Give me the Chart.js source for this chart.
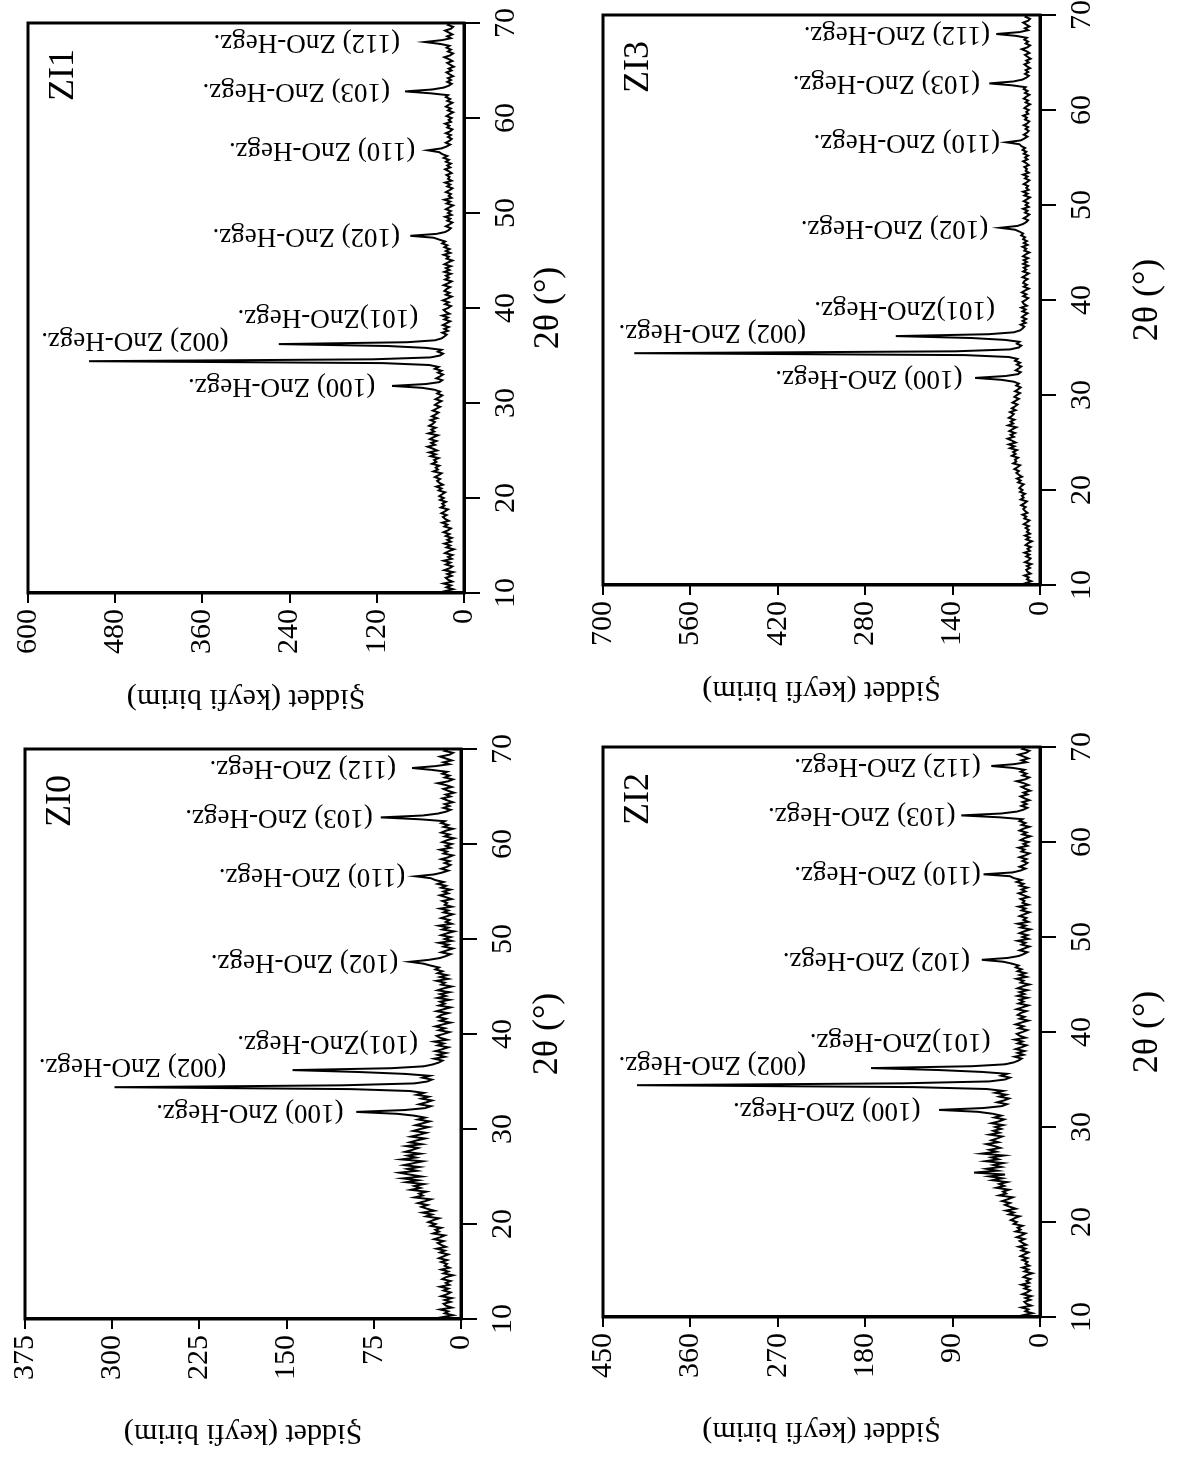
<!DOCTYPE html>
<html>
<head>
<meta charset="utf-8">
<script src="https://cdn.jsdelivr.net/npm/chart.js@4.4.1/dist/chart.umd.min.js"></script>
<style>
  html, body { margin: 0; background: #fff; }
  body { width: 1181px; height: 1468px; position: relative; overflow: hidden; }
  .panel { position: absolute; width: 734px; height: 590px; transform-origin: 0 0; transform: rotate(-90deg); }
</style>
</head>
<body>
<div class="panel" id="wrapZI1"><canvas id="chartZI1" width="734" height="590"></canvas></div>
<div class="panel" id="wrapZI3"><canvas id="chartZI3" width="734" height="590"></canvas></div>
<div class="panel" id="wrapZI0"><canvas id="chartZI0" width="734" height="590"></canvas></div>
<div class="panel" id="wrapZI2"><canvas id="chartZI2" width="734" height="590"></canvas></div>
<script>
// 2θ grid of the scans: 10° .. 70° every 0.2°
const thetaStart = 10;
const thetaStep = 0.2;

const xTicks = [10, 20, 30, 40, 50, 60, 70];
const yMaxZI0 = 375, yMaxZI1 = 600, yMaxZI2 = 450, yMaxZI3 = 700;

const peakNames = ["(100) ZnO-Hegz.", "(002) ZnO-Hegz.", "(101)ZnO-Hegz.", "(102) ZnO-Hegz.",
                   "(110) ZnO-Hegz.", "(103) ZnO-Hegz.", "(112) ZnO-Hegz."];

// intensities (one value per 0.2°)
const intensZI1 = [
  19, 26, 15, 24, 18, 28, 16, 22, 25, 17,
  23, 15, 27, 20, 16, 25, 19, 28, 17, 22,
  16, 26, 21, 14, 24, 19, 27, 18, 23, 17,
  25, 20, 28, 22, 18, 27, 23, 30, 21, 26,
  29, 24, 31, 26, 22, 32, 27, 30, 25, 33,
  28, 34, 30, 26, 35, 31, 38, 29, 34, 37,
  33, 40, 35, 31, 42, 36, 39, 34, 44, 38,
  41, 35, 46, 39, 48, 37, 43, 50, 40, 45,
  38, 47, 42, 36, 49, 41, 45, 39, 48, 43,
  40, 46, 37, 44, 39, 35, 43, 38, 33, 40,
  36, 31, 39, 34, 30, 37, 33, 41, 58, 99,
  52, 34, 30, 38, 33, 29, 36, 31, 40, 35,
  48, 112, 516, 125, 46, 33, 29, 36, 31, 52,
  105, 255, 78, 40, 31, 27, 24, 30, 22, 27,
  21, 29, 24, 19, 27, 22, 30, 20, 25, 28,
  22, 18, 26, 21, 29, 23, 17, 25, 20, 27,
  24, 19, 28, 22, 17, 26, 21, 25, 18, 27,
  20, 25, 18, 27, 22, 16, 24, 21, 28, 19,
  25, 20, 27, 23, 30, 26, 34, 42, 74, 38,
  26, 21, 18, 25, 20, 16, 23, 19, 26, 17,
  22, 18, 25, 20, 15, 24, 19, 27, 17, 21,
  18, 25, 20, 16, 23, 19, 26, 17, 22, 20,
  24, 17, 21, 26, 19, 23, 18, 25, 21, 28,
  23, 30, 34, 50, 31, 24, 19, 25, 20, 17,
  22, 18, 25, 19, 16, 23, 20, 26, 18, 21,
  17, 24, 20, 15, 22, 18, 25, 21, 16, 23,
  19, 25, 22, 46, 81, 44, 28, 21, 17, 23,
  18, 22, 15, 20, 24, 17, 21, 14, 19, 23,
  16, 21, 27, 19, 15, 22, 18, 24, 20, 33,
  54, 30, 18, 23, 16, 21, 26, 18, 15, 22,
  19
];

const intensZI3 = [
  17, 23, 14, 21, 18, 25, 15, 20, 22, 16,
  21, 14, 24, 18, 15, 22, 17, 25, 16, 20,
  15, 23, 19, 13, 22, 17, 24, 16, 21, 18,
  23, 18, 26, 21, 17, 25, 22, 28, 20, 24,
  27, 23, 30, 25, 21, 31, 26, 29, 24, 32,
  28, 33, 30, 26, 35, 31, 37, 29, 34, 38,
  34, 41, 36, 32, 43, 38, 40, 35, 45, 39,
  43, 37, 48, 41, 50, 39, 45, 52, 42, 47,
  40, 49, 44, 38, 51, 43, 47, 41, 50, 45,
  42, 48, 39, 45, 40, 36, 44, 39, 34, 41,
  37, 32, 40, 35, 31, 38, 34, 42, 62, 104,
  55, 35, 31, 39, 34, 30, 37, 32, 40, 36,
  50, 120, 650, 135, 48, 34, 30, 37, 33, 56,
  110, 231, 82, 42, 32, 28, 25, 31, 23, 28,
  22, 29, 25, 20, 28, 23, 30, 21, 26, 28,
  23, 19, 27, 22, 29, 24, 18, 26, 21, 27,
  25, 20, 28, 23, 18, 27, 22, 26, 19, 27,
  21, 26, 19, 27, 23, 17, 25, 22, 28, 20,
  26, 21, 27, 24, 30, 27, 33, 40, 64, 36,
  27, 22, 19, 26, 21, 17, 24, 20, 27, 18,
  23, 19, 26, 21, 16, 25, 20, 27, 18, 22,
  19, 26, 21, 17, 24, 20, 27, 18, 23, 21,
  25, 18, 22, 27, 20, 24, 19, 26, 22, 28,
  24, 30, 33, 54, 31, 25, 20, 26, 21, 18,
  23, 19, 26, 20, 17, 24, 21, 27, 19, 22,
  18, 25, 21, 16, 23, 19, 26, 22, 17, 24,
  20, 26, 23, 45, 81, 43, 28, 22, 18, 24,
  19, 23, 16, 21, 25, 18, 22, 15, 20, 24,
  17, 22, 29, 20, 16, 23, 19, 25, 21, 38,
  70, 33, 19, 24, 17, 22, 27, 19, 16, 23,
  20
];

const intensZI0 = [
  10, 16, 7, 14, 11, 18, 8, 13, 15, 9,
  14, 8, 17, 12, 9, 15, 11, 18, 10, 13,
  9, 16, 13, 7, 15, 11, 17, 10, 14, 12,
  17, 12, 19, 15, 11, 18, 14, 21, 13, 17,
  20, 15, 23, 18, 14, 24, 19, 22, 17, 26,
  22, 28, 24, 19, 30, 25, 33, 23, 29, 34,
  29, 37, 31, 26, 40, 33, 36, 30, 43, 35,
  40, 32, 47, 37, 50, 34, 44, 53, 38, 46,
  36, 49, 41, 33, 51, 39, 46, 35, 48, 42,
  37, 47, 34, 44, 38, 31, 43, 36, 30, 41,
  35, 28, 39, 33, 27, 37, 31, 40, 55, 90,
  48, 31, 26, 36, 30, 25, 34, 28, 38, 32,
  44, 95, 298, 102, 40, 29, 25, 33, 27, 48,
  88, 145, 60, 32, 24, 19, 16, 23, 14, 20,
  13, 22, 16, 11, 20, 15, 23, 12, 18, 21,
  15, 10, 19, 14, 22, 16, 9, 18, 13, 20,
  17, 11, 21, 15, 9, 19, 14, 18, 10, 20,
  13, 18, 10, 20, 15, 8, 17, 14, 21, 11,
  18, 12, 20, 16, 22, 19, 26, 32, 44, 28,
  18, 13, 9, 17, 12, 7, 15, 11, 19, 8,
  14, 9, 17, 12, 6, 16, 11, 19, 8, 13,
  10, 17, 12, 7, 15, 11, 18, 8, 14, 12,
  16, 8, 13, 18, 11, 15, 9, 17, 13, 20,
  15, 22, 26, 39, 23, 16, 11, 17, 12, 9,
  14, 10, 17, 11, 7, 15, 12, 18, 9, 13,
  8, 16, 12, 6, 14, 10, 17, 13, 7, 15,
  11, 17, 14, 35, 69, 33, 20, 13, 9, 15,
  10, 14, 7, 12, 16, 9, 13, 6, 11, 15,
  8, 13, 20, 11, 7, 14, 10, 16, 12, 25,
  42, 22, 10, 15, 8, 13, 18, 10, 7, 14,
  11
];

const intensZI2 = [
  11, 17, 8, 15, 12, 19, 9, 14, 16, 10,
  15, 9, 18, 13, 10, 16, 12, 19, 11, 14,
  10, 17, 14, 8, 16, 12, 18, 11, 15, 13,
  18, 13, 20, 16, 12, 19, 15, 22, 14, 18,
  21, 16, 24, 19, 15, 25, 20, 23, 18, 27,
  24, 30, 26, 21, 32, 27, 35, 25, 31, 36,
  31, 39, 33, 28, 42, 35, 38, 32, 45, 37,
  42, 34, 49, 39, 52, 36, 68, 44, 55, 40,
  48, 38, 56, 43, 50, 37, 60, 45, 52, 41,
  47, 55, 43, 50, 44, 39, 52, 42, 48, 40,
  46, 38, 50, 42, 37, 47, 40, 49, 64, 104,
  58, 39, 34, 44, 37, 32, 42, 35, 46, 38,
  55, 130, 415, 140, 52, 36, 31, 40, 34, 60,
  105, 174, 70, 36, 27, 22, 19, 26, 17, 23,
  16, 25, 19, 14, 23, 18, 26, 15, 21, 24,
  18, 13, 22, 17, 25, 19, 12, 21, 16, 23,
  20, 14, 24, 18, 12, 22, 17, 21, 13, 23,
  16, 21, 13, 23, 18, 11, 20, 17, 24, 14,
  21, 15, 23, 19, 25, 22, 29, 38, 60, 33,
  22, 17, 13, 21, 16, 11, 19, 15, 23, 12,
  18, 13, 21, 16, 10, 20, 15, 23, 12, 17,
  14, 21, 16, 11, 19, 15, 22, 12, 18, 16,
  20, 12, 17, 22, 15, 19, 13, 21, 17, 24,
  19, 27, 31, 58, 28, 20, 15, 21, 16, 13,
  18, 14, 21, 15, 11, 19, 16, 22, 13, 17,
  12, 20, 16, 10, 18, 14, 21, 17, 11, 19,
  15, 21, 18, 42, 81, 40, 24, 17, 13, 19,
  14, 18, 11, 16, 20, 13, 17, 10, 15, 19,
  12, 17, 24, 15, 11, 18, 14, 20, 16, 28,
  50, 26, 14, 19, 12, 17, 22, 14, 11, 18,
  15
];

// where each peak name sits (2θ, intensity at the start of the text)
const labelTheta = [31.8, 36.6, 39.0, 47.6, 56.6, 62.8, 68.0];
const labelAtZI1 = [122, 324, 63, 88, 67, 102, 88];
const labelAtZI3 = [124, 375, 72, 83, 64, 96, 80];
const labelAtZI0 = [101, 202, 37, 54, 48, 76, 56];
const labelAtZI2 = [123, 241, 51, 72, 61, 87, 61];

// page layout: plot box in page pixels, before the -90° turn
const layout = [
  { id: "ZI1", values: intensZI1, yMax: yMaxZI1, labelAt: labelAtZI1, box: { x1: 26, x2: 464, y1: 19, y2: 593 }, xTitlePad: 24, yTitlePad: 18 },
  { id: "ZI3", values: intensZI3, yMax: yMaxZI3, labelAt: labelAtZI3, box: { x1: 601, x2: 1040, y1: 14, y2: 585 }, xTitlePad: 0, yTitlePad: 18 },
  { id: "ZI0", values: intensZI0, yMax: yMaxZI0, labelAt: labelAtZI0, box: { x1: 23, x2: 461, y1: 748, y2: 1319 }, xTitlePad: 22, yTitlePad: 9 },
  { id: "ZI2", values: intensZI2, yMax: yMaxZI2, labelAt: labelAtZI2, box: { x1: 601, x2: 1040, y1: 746, y2: 1317 }, xTitlePad: 0, yTitlePad: 9 }
];

const W = 734, H = 590, PAD_TOP = 22, Y_AXIS_W = 141;
const serif = "Liberation Serif";

const decor = {
  id: "decor",
  afterDatasetsDraw(chart, args, opts) {
    const { ctx, chartArea: a, scales: { x, y } } = chart;
    ctx.save();
    ctx.strokeStyle = "#000";
    ctx.lineWidth = 3;
    ctx.strokeRect(a.left, a.top, a.right - a.left, a.bottom - a.top);
    ctx.fillStyle = "#000";
    ctx.font = "36px '" + serif + "'";
    ctx.textAlign = "right";
    ctx.textBaseline = "top";
    ctx.fillText(opts.name, a.right - 26, a.top + 18);
    ctx.font = "27px '" + serif + "'";
    ctx.textAlign = "left";
    ctx.textBaseline = "middle";
    peakNames.forEach((txt, k) => {
      const px = x.getPixelForValue(labelTheta[k]);
      const py = y.getPixelForValue(opts.labelAt[k]);
      ctx.save();
      ctx.translate(px, py);
      ctx.rotate(-Math.PI / 2);
      ctx.fillText(txt, 0, 0);
      ctx.restore();
    });
    ctx.restore();
  }
};

layout.forEach(p => {
  const b = p.box;
  const wrap = document.getElementById("wrap" + p.id);
  const left = b.x1 - PAD_TOP;
  const top = b.y2 + Y_AXIS_W;
  wrap.style.left = left + "px";
  wrap.style.top = top + "px";
  const plotH = b.x2 - b.x1;
  const plotW = b.y2 - b.y1;
  const xAxisH = H - PAD_TOP - plotH;
  const padRight = W - Y_AXIS_W - plotW;

  const points = p.values.map((v, i) => ({ x: thetaStart + i * thetaStep, y: v }));

  new Chart(document.getElementById("chart" + p.id), {
    type: "line",
    data: { datasets: [{ data: points, borderColor: "#000", borderWidth: 2, pointRadius: 0, tension: 0, fill: false }] },
    options: {
      responsive: false,
      animation: false,
      layout: { padding: { top: PAD_TOP, right: padRight, left: 0, bottom: 0 } },
      plugins: {
        legend: { display: false },
        tooltip: { enabled: false },
        decor: { name: p.id, labelAt: p.labelAt }
      },
      scales: {
        x: {
          type: "linear", min: 10, max: 70,
          afterBuildTicks: s => { s.ticks = xTicks.map(v => ({ value: v })); },
          afterFit: s => { s.height = xAxisH; },
          ticks: { color: "#000", font: { family: serif, size: 30 }, padding: 8, maxRotation: 0 },
          grid: { drawOnChartArea: false, drawTicks: true, tickLength: 16, color: "#000", lineWidth: 2 },
          border: { display: true, color: "#000", width: 3 },
          title: { display: true, text: "2θ (°)", color: "#000", font: { family: serif, size: 36 }, padding: { top: 0, bottom: p.xTitlePad } }
        },
        y: {
          min: 0, max: p.yMax,
          afterFit: s => { s.width = Y_AXIS_W; },
          ticks: { stepSize: p.yMax / 5, color: "#000", font: { family: serif, size: 30 }, padding: 6 },
          grid: { drawOnChartArea: false, drawTicks: true, tickLength: 10, color: "#000", lineWidth: 2 },
          border: { display: true, color: "#000", width: 3 },
          title: { display: true, text: "Şiddet (keyfi birim)", color: "#000", font: { family: serif, size: 30 }, padding: { top: p.yTitlePad, bottom: 0 } }
        }
      }
    },
    plugins: [decor]
  });
});
</script>
</body>
</html>
